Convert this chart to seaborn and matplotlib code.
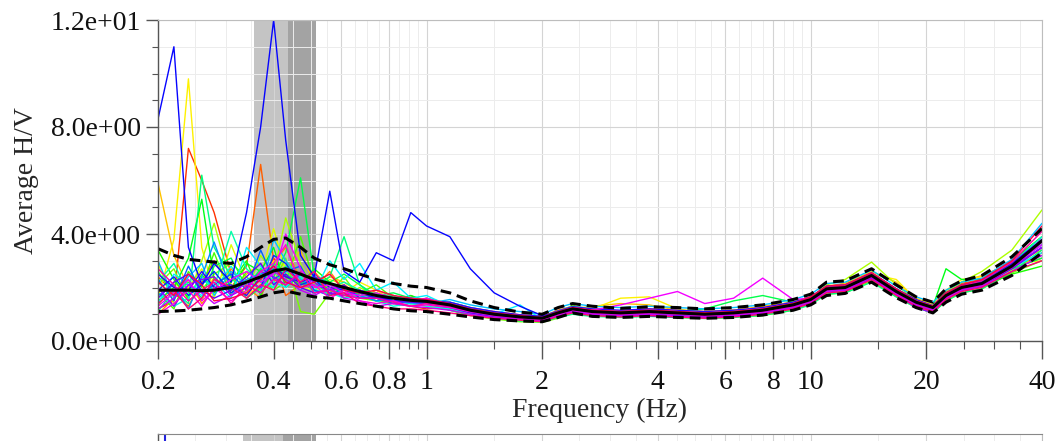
import pandas as pd
import seaborn as sns
import matplotlib.pyplot as plt
from matplotlib.ticker import FixedLocator, NullFormatter, FormatStrFormatter

# frequency samples (Hz); the first 19 are the "low" part, the last 27 the "high" part
freq = [0.20, 0.22, 0.24, 0.26, 0.28, 0.31, 0.34, 0.37, 0.40, 0.43, 0.47, 0.51, 0.56, 0.61,
        0.67, 0.74, 0.82, 0.91, 1.0,
        1.15, 1.3, 1.5, 1.75, 2.0, 2.2, 2.4, 2.7, 3.2, 3.8, 4.5, 5.3, 6.3, 7.5, 9.0, 10.0,
        11.0, 12.3, 14.4, 16.7, 18.8, 20.8, 22.5, 24.7, 27.9, 33.4, 40.0]

hv_mean = [1.9, 1.9, 1.9, 1.88, 1.9, 2.0, 2.2, 2.4, 2.62, 2.7, 2.5, 2.3, 2.15, 2.0, 1.85, 1.7,
           1.6, 1.52, 1.48,
           1.35, 1.15, 1.0, 0.9, 0.85, 1.05, 1.2, 1.1, 1.05, 1.1, 1.05, 1.0, 1.05, 1.15, 1.35,
           1.55, 1.95, 2.0, 2.45, 1.85, 1.45, 1.25, 1.7, 2.0, 2.15, 2.8, 3.75]
hv_upper = [3.45, 3.2, 3.05, 3.0, 2.95, 2.9, 3.15, 3.5, 3.8, 3.85, 3.5, 3.1, 2.85, 2.7, 2.5,
            2.3, 2.15, 2.05, 2.0,
            1.8, 1.5, 1.25, 1.08, 1.0, 1.25, 1.4, 1.3, 1.22, 1.28, 1.25, 1.2, 1.25, 1.35,
            1.55, 1.75, 2.2, 2.25, 2.7, 2.1, 1.65, 1.45, 1.95, 2.25, 2.45, 3.15, 4.2]
hv_lower = [1.1, 1.12, 1.15, 1.2, 1.25, 1.35, 1.5, 1.65, 1.8, 1.87, 1.75, 1.65, 1.6, 1.5, 1.4,
            1.3, 1.2, 1.13, 1.1,
            1.0, 0.9, 0.8, 0.75, 0.72, 0.88, 1.05, 0.92, 0.88, 0.92, 0.88, 0.85, 0.88, 0.97,
            1.15, 1.35, 1.7, 1.78, 2.2, 1.62, 1.25, 1.05, 1.45, 1.75, 1.9, 2.45, 3.3]

curves_low = [
    [1.2, 1.5, 7.2, 6.0, 4.8, 2.5, 1.6, 2.0, 3.1, 2.4, 2.2, 1.9, 1.8, 2.1, 1.7, 1.5, 1.4, 1.3, 1.2],
    [2.4, 1.8, 1.3, 2.2, 3.0, 2.0, 2.8, 6.6, 3.0, 1.7, 2.1, 2.4, 1.9, 1.7, 1.8, 1.6, 1.5, 1.7, 1.4],
    [1.0, 1.6, 2.3, 1.4, 1.9, 2.7, 2.0, 1.6, 2.9, 3.5, 2.3, 2.0, 2.6, 1.9, 1.6, 1.9, 1.7, 1.4, 1.6],
    [5.9, 3.2, 2.0, 1.5, 2.4, 1.8, 2.5, 2.9, 2.2, 2.6, 3.4, 2.1, 2.4, 2.2, 1.8, 1.5, 1.6, 1.6, 1.5],
    [1.6, 3.8, 9.8, 3.5, 1.8, 2.4, 1.7, 2.1, 3.0, 2.8, 2.2, 2.6, 2.0, 1.8, 2.2, 1.9, 1.5, 1.5, 1.45],
    [2.9, 1.4, 2.0, 2.7, 1.6, 3.6, 2.2, 2.4, 4.2, 2.6, 2.0, 1.9, 2.3, 2.1, 1.7, 1.8, 1.6, 1.4, 1.3],
    [1.3, 2.2, 1.7, 3.0, 4.4, 2.1, 1.8, 3.2, 2.5, 4.6, 2.9, 1.9, 2.1, 1.7, 2.0, 1.7, 1.5, 1.5, 1.45],
    [2.1, 2.7, 1.5, 1.9, 2.5, 2.9, 2.4, 1.9, 2.2, 3.1, 1.1, 1.0, 1.8, 2.4, 1.6, 1.5, 1.4, 1.6, 1.4],
    [1.8, 1.2, 2.6, 2.0, 3.3, 1.7, 2.6, 2.3, 1.9, 2.2, 3.9, 2.2, 1.7, 1.9, 1.8, 2.1, 1.6, 1.4, 1.6],
    [3.4, 2.3, 1.6, 2.5, 1.8, 2.2, 3.0, 1.7, 2.7, 2.4, 2.1, 2.7, 2.2, 1.6, 1.9, 1.6, 1.7, 1.5, 1.5],
    [1.5, 2.0, 3.1, 5.3, 2.3, 1.9, 2.9, 2.6, 3.5, 2.0, 2.5, 2.3, 1.9, 2.0, 1.7, 1.8, 1.5, 1.7, 1.5],
    [2.6, 1.7, 2.2, 1.6, 2.8, 3.1, 2.0, 2.7, 2.4, 3.3, 6.1, 2.4, 2.2, 2.5, 2.1, 1.7, 1.8, 1.6, 1.5],
    [1.1, 1.9, 1.4, 6.2, 3.5, 2.4, 1.6, 2.0, 2.9, 2.5, 2.2, 2.0, 2.4, 3.9, 2.1, 1.6, 1.5, 1.4, 1.45],
    [2.2, 2.9, 1.8, 2.3, 2.0, 4.1, 2.7, 2.2, 2.0, 2.8, 2.4, 1.8, 2.0, 2.2, 1.9, 1.6, 1.7, 1.5, 1.4],
    [1.8, 1.3, 1.6, 2.4, 1.9, 2.8, 1.9, 2.3, 2.0, 2.6, 2.4, 1.9, 1.8, 1.6, 1.7, 1.5, 1.3, 1.4, 1.3],
    [1.4, 2.5, 2.1, 1.7, 2.2, 1.6, 3.5, 2.8, 2.2, 2.0, 2.6, 1.8, 3.0, 2.3, 2.9, 1.9, 2.2, 1.6, 1.7],
    [3.0, 1.6, 2.4, 2.9, 1.7, 2.6, 2.1, 1.8, 3.8, 3.0, 2.3, 2.1, 1.9, 1.8, 1.6, 1.7, 1.5, 1.4, 1.4],
    [1.7, 2.1, 1.2, 2.4, 3.7, 1.9, 2.3, 2.5, 2.7, 2.3, 1.9, 2.5, 2.1, 1.9, 1.7, 1.5, 1.6, 1.5, 1.4],
    [2.3, 1.5, 2.8, 1.8, 2.1, 2.5, 1.9, 3.4, 2.3, 2.6, 2.8, 1.9, 1.7, 2.0, 1.8, 1.6, 1.4, 1.5, 1.5],
    [1.9, 2.4, 1.7, 2.1, 2.6, 1.8, 2.2, 2.0, 3.2, 2.9, 2.1, 2.3, 1.8, 1.7, 1.9, 1.7, 1.5, 1.6, 1.5],
    [8.3, 11.0, 3.5, 2.1, 2.9, 2.2, 4.8, 8.0, 12.0, 7.5, 3.2, 2.4, 5.6, 2.6, 2.2, 3.3, 3.0, 4.8, 4.3],
    [2.5, 2.0, 1.9, 2.6, 2.0, 2.1, 1.7, 2.4, 2.8, 2.4, 2.2, 2.4, 2.0, 1.9, 1.8, 1.6, 1.6, 1.5, 1.5],
    [1.6, 2.2, 2.5, 1.9, 1.6, 1.9, 2.4, 2.9, 2.1, 2.5, 2.0, 1.8, 1.9, 2.1, 1.6, 1.6, 1.5, 1.45, 1.4],
    [2.0, 1.3, 2.1, 2.3, 2.4, 1.7, 2.0, 2.6, 2.4, 2.1, 2.5, 2.2, 1.8, 1.7, 1.9, 1.7, 1.6, 1.5, 1.5],
    [1.2, 1.6, 2.1, 1.8, 1.4, 1.7, 2.2, 2.0, 2.6, 2.3, 1.9, 1.7, 2.0, 1.6, 1.5, 1.3, 1.4, 1.3, 1.25],
    [1.3, 1.8, 2.3, 1.5, 1.9, 2.3, 2.6, 2.2, 2.5, 4.0, 2.7, 2.0, 2.1, 1.8, 1.7, 1.8, 1.6, 1.5, 1.6],
    [1.0, 1.4, 1.9, 1.3, 2.0, 1.5, 1.9, 2.6, 2.9, 3.6, 2.0, 2.1, 1.6, 1.9, 1.5, 1.4, 1.5, 1.3, 1.35],
    [2.7, 2.1, 1.5, 1.9, 2.2, 1.4, 2.1, 1.8, 2.3, 2.1, 2.6, 1.8, 1.9, 1.7, 1.6, 1.6, 1.45, 1.3, 1.4],
    [1.4, 1.9, 1.2, 1.6, 2.3, 2.0, 1.6, 2.1, 1.9, 2.7, 2.2, 2.6, 1.7, 1.8, 1.4, 1.3, 1.2, 1.2, 1.15],
    [2.2, 1.7, 2.5, 2.1, 1.5, 1.6, 1.8, 2.3, 2.8, 2.2, 2.0, 2.2, 2.5, 1.9, 1.8, 1.9, 1.7, 1.6, 1.55],
]

curves_high = [
    [1.25, 1.05, 0.9, 0.82, 0.78, 0.95, 1.1, 1.0, 0.98, 1.0, 0.95, 0.92, 0.95, 1.05, 1.25, 1.45, 1.85, 1.9, 2.3, 1.75, 1.3, 1.1, 1.6, 1.9, 2.05, 2.6, 3.3],
    [1.45, 1.25, 1.1, 0.98, 0.92, 1.15, 1.3, 1.2, 1.12, 1.2, 1.15, 1.1, 1.15, 1.25, 1.45, 1.65, 2.05, 2.15, 2.55, 1.95, 1.55, 1.3, 1.85, 2.15, 2.3, 2.95, 3.9],
    [1.3, 1.1, 0.95, 0.85, 0.8, 1.0, 1.25, 1.05, 1.1, 1.0, 1.05, 0.95, 1.1, 1.1, 1.3, 1.5, 1.9, 2.05, 2.4, 1.95, 1.4, 1.2, 1.75, 2.1, 2.3, 2.7, 3.1],
    [1.4, 1.2, 1.05, 0.95, 0.9, 1.1, 1.2, 1.3, 1.4, 1.35, 1.15, 1.1, 1.15, 1.3, 1.45, 1.65, 2.0, 2.15, 2.6, 2.2, 1.6, 1.35, 1.85, 2.2, 2.45, 2.9, 3.4],
    [1.35, 1.2, 1.0, 0.9, 0.9, 1.1, 1.15, 1.2, 1.6, 1.65, 1.2, 1.05, 1.0, 1.2, 1.4, 1.6, 2.0, 2.1, 2.5, 2.3, 1.55, 1.35, 1.9, 2.3, 2.4, 2.9, 3.0],
    [1.2, 1.0, 0.88, 0.78, 0.72, 0.9, 1.05, 0.95, 0.92, 0.95, 0.9, 0.88, 0.92, 1.0, 1.2, 1.4, 1.8, 1.85, 2.3, 1.7, 1.3, 1.1, 1.55, 1.85, 2.0, 2.65, 3.5],
    [1.3, 1.1, 0.95, 0.85, 0.78, 1.0, 1.3, 1.05, 1.0, 1.05, 1.0, 0.95, 1.0, 1.1, 1.3, 1.6, 2.1, 2.3, 2.95, 2.1, 1.5, 1.3, 1.8, 2.2, 2.6, 3.4, 4.9],
    [1.15, 0.95, 0.82, 0.72, 0.7, 0.85, 1.35, 0.95, 0.9, 0.95, 0.88, 0.85, 0.88, 0.95, 1.15, 1.4, 1.75, 1.8, 2.25, 1.65, 1.25, 1.05, 1.5, 1.8, 1.95, 2.55, 3.0],
    [1.4, 1.2, 1.05, 0.95, 0.88, 1.1, 1.25, 1.15, 1.1, 1.15, 1.1, 1.05, 1.1, 1.2, 1.4, 1.6, 2.0, 2.05, 2.5, 1.9, 1.5, 1.3, 1.75, 2.05, 2.2, 2.85, 3.7],
    [1.25, 1.05, 0.9, 0.8, 0.75, 0.95, 1.1, 1.0, 0.95, 1.0, 0.95, 0.9, 0.95, 1.05, 1.25, 1.45, 1.85, 1.9, 2.35, 1.75, 1.35, 1.15, 1.6, 1.9, 2.05, 2.5, 2.8],
    [1.35, 1.15, 1.05, 0.95, 0.9, 1.05, 1.2, 1.1, 1.05, 1.15, 1.1, 1.05, 1.1, 1.2, 1.4, 1.6, 1.95, 2.05, 2.45, 1.9, 1.45, 1.3, 2.7, 2.3, 2.3, 3.0, 3.9],
    [1.4, 1.2, 1.05, 0.95, 0.9, 1.1, 1.2, 1.15, 1.1, 1.15, 1.1, 1.2, 1.5, 1.7, 1.45, 1.6, 1.95, 2.0, 2.4, 1.85, 1.45, 1.25, 1.7, 2.0, 2.15, 2.7, 3.1],
    [1.15, 0.98, 0.85, 0.75, 0.72, 0.88, 1.0, 0.92, 0.88, 0.92, 0.88, 0.84, 0.88, 0.96, 1.15, 1.35, 1.75, 1.8, 2.2, 1.65, 1.25, 1.05, 1.5, 1.8, 1.95, 2.6, 3.4],
    [1.45, 1.25, 1.08, 0.95, 0.9, 1.12, 1.3, 1.2, 1.12, 1.15, 1.12, 1.08, 1.12, 1.22, 1.42, 1.62, 2.02, 2.1, 2.5, 1.95, 1.5, 1.3, 1.8, 2.1, 2.25, 2.9, 3.6],
    [1.2, 1.05, 0.95, 0.85, 0.8, 1.0, 1.2, 1.1, 1.05, 1.1, 1.05, 1.0, 1.05, 1.15, 1.35, 1.55, 1.95, 2.0, 2.45, 1.85, 1.45, 1.25, 1.7, 2.0, 2.2, 2.9, 3.9],
    [1.3, 1.1, 1.0, 1.35, 0.8, 1.0, 1.15, 1.05, 1.0, 1.05, 1.0, 0.95, 1.0, 1.1, 1.3, 1.5, 1.9, 1.95, 2.4, 1.8, 1.4, 1.2, 1.65, 1.95, 2.1, 2.75, 3.3],
    [1.55, 1.35, 1.2, 1.1, 1.0, 1.25, 1.4, 1.3, 1.25, 1.3, 1.25, 1.2, 1.25, 1.35, 1.55, 1.75, 2.15, 2.2, 2.65, 2.05, 1.65, 1.45, 1.9, 2.2, 2.35, 3.05, 4.4],
    [1.35, 1.15, 1.0, 0.9, 0.85, 1.05, 1.2, 1.1, 1.05, 1.1, 1.05, 1.0, 1.05, 1.15, 1.35, 1.55, 1.95, 2.0, 2.45, 1.85, 1.45, 1.25, 1.7, 2.0, 2.15, 2.8, 3.6],
    [1.4, 1.2, 1.05, 0.92, 0.88, 1.1, 1.25, 1.15, 1.1, 1.15, 1.1, 1.05, 1.1, 1.2, 1.4, 1.6, 2.0, 2.05, 2.5, 1.9, 1.5, 1.28, 1.75, 2.05, 2.2, 2.85, 3.7],
    [1.3, 1.1, 0.95, 0.88, 0.82, 1.0, 1.15, 1.05, 1.0, 1.05, 1.0, 0.97, 1.0, 1.1, 1.3, 1.5, 1.9, 1.95, 2.4, 1.8, 1.4, 1.22, 1.65, 1.95, 2.1, 2.75, 3.5],
    [3.9, 2.7, 1.8, 1.3, 0.95, 1.0, 1.1, 1.05, 1.0, 0.95, 0.9, 0.9, 0.95, 1.05, 1.3, 1.5, 1.9, 1.95, 2.4, 1.8, 1.4, 1.2, 1.65, 1.95, 2.1, 2.75, 3.8],
    [1.45, 1.25, 1.1, 0.98, 0.92, 1.12, 1.28, 1.2, 1.15, 1.2, 1.15, 1.1, 1.15, 1.25, 1.45, 1.65, 2.05, 2.1, 2.55, 1.95, 1.55, 1.32, 1.8, 2.1, 2.25, 2.9, 3.8],
    [1.25, 1.05, 0.9, 0.82, 0.78, 0.98, 1.1, 1.0, 0.95, 1.0, 0.95, 0.9, 0.95, 1.05, 1.25, 1.45, 1.85, 1.9, 2.35, 1.75, 1.35, 1.15, 1.6, 1.9, 2.05, 2.7, 3.5],
    [1.3, 1.1, 0.95, 0.85, 0.8, 1.0, 1.15, 1.05, 1.0, 1.05, 1.0, 0.95, 1.0, 1.1, 1.3, 1.5, 1.9, 1.95, 2.35, 1.75, 1.25, 1.05, 1.6, 1.95, 2.1, 2.75, 3.5],
    [1.15, 1.0, 0.88, 0.8, 0.75, 0.95, 1.1, 1.0, 0.95, 1.0, 0.92, 0.9, 0.95, 1.05, 1.25, 1.45, 1.85, 1.9, 2.3, 1.75, 1.35, 1.15, 1.6, 1.9, 2.05, 2.6, 3.2],
    [1.35, 1.15, 1.0, 0.9, 0.85, 1.05, 1.2, 1.15, 1.35, 1.6, 1.85, 1.4, 1.6, 2.35, 1.55, 1.6, 1.95, 2.0, 2.45, 1.85, 1.45, 1.25, 1.7, 2.0, 2.15, 2.8, 3.6],
    [1.25, 1.1, 0.95, 0.85, 0.8, 1.0, 1.15, 1.05, 1.0, 1.05, 1.0, 0.95, 1.0, 1.1, 1.3, 1.5, 1.9, 1.95, 2.4, 1.8, 1.4, 1.2, 1.65, 1.95, 2.1, 2.75, 3.7],
    [1.3, 1.15, 1.0, 0.9, 0.85, 1.05, 1.25, 1.15, 1.1, 1.15, 1.1, 1.05, 1.1, 1.2, 1.4, 1.6, 2.0, 2.05, 2.5, 1.9, 1.5, 1.3, 1.75, 2.05, 2.25, 2.95, 4.1],
    [1.05, 0.95, 0.85, 0.78, 0.72, 0.92, 1.05, 0.95, 0.9, 0.95, 0.9, 0.85, 0.9, 1.0, 1.2, 1.4, 1.8, 1.85, 2.3, 1.7, 1.3, 1.1, 1.55, 1.85, 2.0, 2.6, 3.0],
    [1.4, 1.2, 1.05, 0.95, 0.88, 1.1, 1.25, 1.15, 1.1, 1.15, 1.1, 1.05, 1.1, 1.2, 1.4, 1.65, 2.05, 2.1, 2.55, 1.95, 1.5, 1.3, 1.8, 2.1, 2.3, 3.0, 4.3],
]

# peak frequency bands (main panel / lower panel)
band_light = (0.356, 0.436)
band_dark = (0.436, 0.516)
band2_light = (0.333, 0.423)
band2_dark = (0.423, 0.516)
f0_line = 0.208

major_x = [0.2, 0.4, 0.6, 0.8, 1, 2, 4, 6, 8, 10, 20, 40]
major_x_labels = ["0.2", "0.4", "0.6", "0.8", "1", "2", "4", "6", "8", "10", "20", "40"]
minor_x = [0.25, 0.3, 0.35, 0.45, 0.5, 0.55, 0.65, 0.7, 0.75, 0.85, 0.9, 0.95, 1.5,
           2.5, 3, 3.5, 4.5, 5, 5.5, 6.5, 7, 7.5, 8.5, 9, 9.5, 15, 25, 30, 35]

sns.set_theme(style="white")
plt.rcParams['font.family'] = ['Liberation Serif', 'DejaVu Serif']

rows = []
for k, (lo, hi) in enumerate(zip(curves_low, curves_high)):
    for f, v in zip(freq, lo + hi):
        rows.append((k, f, v))
df = pd.DataFrame(rows, columns=["win", "freq", "hv"])

fig = plt.figure(figsize=(10.64, 4.41), dpi=100)
ax = fig.add_axes([158 / 1064, 1 - 341 / 441, 884 / 1064, 321 / 441])


def style_axis(a):
    a.set_xscale("log")
    a.set_xlim(0.2, 40)
    a.xaxis.set_major_locator(FixedLocator(major_x))
    a.xaxis.set_minor_locator(FixedLocator(minor_x))
    a.xaxis.set_minor_formatter(NullFormatter())
    a.grid(True, which="major", color="#d4d4d4", lw=0.8)
    a.grid(True, which="minor", color="#ececec", lw=0.7)
    a.set_axisbelow(True)
    for s in ["top", "right"]:
        a.spines[s].set_color("#bdbdbd")
        a.spines[s].set_linewidth(0.8)
    for s in ["left", "bottom"]:
        a.spines[s].set_color("#555555")
        a.spines[s].set_linewidth(1.0)
    a.tick_params(which="major", direction="out", length=9, width=1, color="#555555",
                  labelsize=20, labelcolor="#111111", left=True, bottom=True)
    a.tick_params(which="minor", direction="out", length=4, width=0.8, color="#555555",
                  left=True, bottom=True)


style_axis(ax)
ax.axvspan(*band_light, color="#c4c4c4", lw=0, zorder=0.5)
ax.axvspan(*band_dark, color="#a3a3a3", lw=0, zorder=0.5)

sns.lineplot(data=df, x="freq", y="hv", hue="win", units="win", estimator=None,
             palette=sns.color_palette("hsv", len(curves_low)), lw=1.0, legend=False,
             sort=False, ax=ax)
sns.lineplot(x=freq, y=hv_mean, color="black", lw=2.2, ax=ax)
for band in (hv_upper, hv_lower):
    sns.lineplot(x=freq, y=band, color="black", lw=2.2, ax=ax)
    ax.lines[-1].set_dashes((3.5, 2))

ax.set_ylim(0, 12)
ax.yaxis.set_major_locator(FixedLocator([0, 4, 8, 12]))
ax.yaxis.set_minor_locator(FixedLocator([1, 2, 3, 5, 6, 7, 9, 10, 11]))
ax.yaxis.set_major_formatter(FormatStrFormatter("%.1e"))
ax.set_xticklabels(major_x_labels)
ax.tick_params(axis="x", which="major", length=13, pad=8)
ax.tick_params(axis="x", which="minor", length=6)
ax.set_xlabel("Frequency (Hz)", fontsize=20, labelpad=2)
ax.set_ylabel("Average H/V", fontsize=20, labelpad=8)

# lower panel, only its top edge is visible
ax2 = fig.add_axes([158 / 1064, -0.3, 884 / 1064, 0.3 + 7 / 441])
style_axis(ax2)
ax2.set_ylim(0, 1)
ax2.axvspan(*band2_light, color="#c4c4c4", lw=0, zorder=0.5)
ax2.axvspan(*band2_dark, color="#a3a3a3", lw=0, zorder=0.5)
ax2.axvline(f0_line, color="#2222dd", lw=1.5)
ax2.set_xticklabels([])
ax2.set_yticks([])
ax2.spines["top"].set_color("#888888")

fig.savefig("out.png", dpi=100)
